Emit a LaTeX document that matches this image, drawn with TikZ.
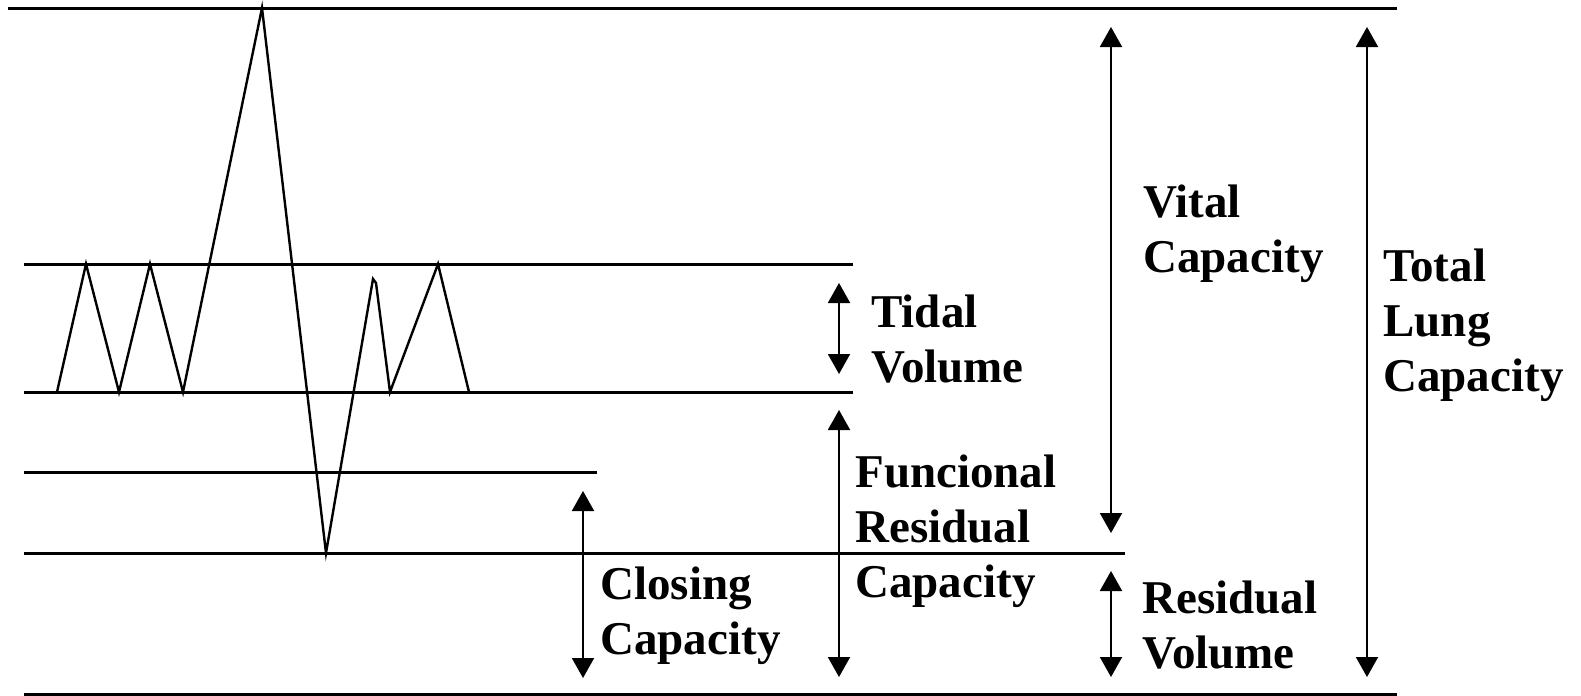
\documentclass[tikz,border=0pt]{standalone}
\usepackage{fontspec}
\setmainfont{Liberation Serif}
\usetikzlibrary{arrows.meta}

\tikzset{
	level/.style={line width=1.5pt},
	trace/.style={line width=1.2pt, line join=miter},
	span/.style={line width=1pt, {Triangle[width=11pt,length=10pt]}-{Triangle[width=11pt,length=10pt]}},
	label/.style={anchor=base west, align=left, inner sep=0pt, font=\bfseries\fontsize{23.5}{27.5}\selectfont}
}

\begin{document}
\begin{tikzpicture}[x=0.5pt, y=-0.5pt]
	\useasboundingbox (0,0) rectangle (1581,696);

	\draw [level] (8,8)    -- (1397,8);
	\draw [level] (24,264) -- (853,264);
	\draw [level] (24,392) -- (853,392);
	\draw [level] (24,472) -- (597,472);
	\draw [level] (24,553) -- (1125,553);
	\draw [level] (24,694) -- (1397,694);

	\draw [trace] (57,392) -- (86,264) -- (119,392) -- (150,264) -- (183,392)
		-- (262,8) -- (326,553) -- (373,279) -- (376,283) -- (390,392)
		-- (438,264) -- (469,392);

	\coordinate (tvtop) at (839,283);
	\coordinate (tvbot) at (839,374);
	\coordinate (frctop) at (839,410);
	\coordinate (frcbot) at (839,677);
	\coordinate (cctop) at (583,491);
	\coordinate (ccbot) at (583,678);
	\coordinate (vctop) at (1111,27);
	\coordinate (vcbot) at (1111,533);
	\coordinate (rvtop) at (1111,571);
	\coordinate (rvbot) at (1111,677);
	\coordinate (tlctop) at (1367,27);
	\coordinate (tlcbot) at (1367,677);

	\draw [span] (tvtop) -- (tvbot);
	\draw [span] (frctop) -- (frcbot);
	\draw [span] (cctop) -- (ccbot);
	\draw [span] (vctop) -- (vcbot);
	\draw [span] (rvtop) -- (rvbot);
	\draw [span] (tlctop) -- (tlcbot);

	% base anchor sits on the last line
	\node [label] (tv)  at (871,382)  {Tidal\\Volume};
	\node [label] (frc) at (855,597)  {Funcional\\Residual\\Capacity};
	\node [label] (cc)  at (600,654)  {Closing\\Capacity};
	\node [label] (vc)  at (1143,272) {Vital\\Capacity};
	\node [label] (rv)  at (1142,668) {Residual\\Volume};
	\node [label] (tlc) at (1383,391) {Total\\Lung\\Capacity};
\end{tikzpicture}
\end{document}
